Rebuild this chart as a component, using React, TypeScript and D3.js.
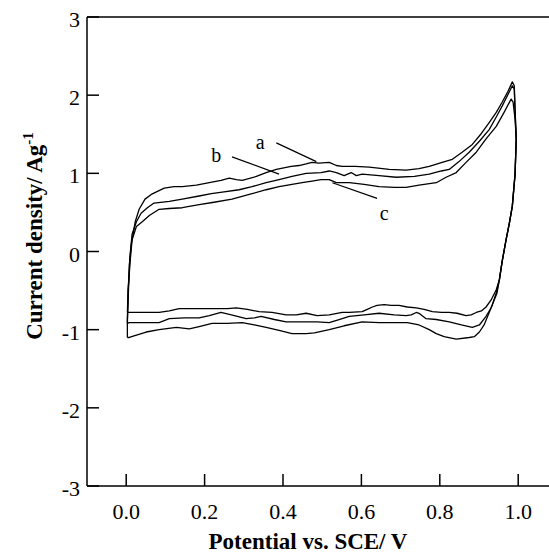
import React from 'react';
import * as d3 from 'd3';

// Tick values
const xTicks: number[] = [0, 0.2, 0.4, 0.6, 0.8, 1.0];
const yTicks: number[] = [-3, -2, -1, 0, 1, 2, 3];

// Upper (anodic) branches: left edge up, then to the vertex (potential V, current density A/g)
const upperA: [number, number][] = [
  [0.003, -1.10], [0.003, -0.87], [0.005, -0.62], [0.008, -0.17], [0.013, 0.09], [0.023, 0.38],
  [0.033, 0.54], [0.048, 0.67], [0.064, 0.73], [0.097, 0.81], [0.122, 0.83], [0.143, 0.83],
  [0.179, 0.85], [0.212, 0.88], [0.242, 0.91], [0.263, 0.94], [0.281, 0.92], [0.296, 0.91],
  [0.332, 0.96], [0.357, 1.01], [0.383, 1.05], [0.421, 1.09], [0.441, 1.10], [0.459, 1.12],
  [0.474, 1.14], [0.492, 1.13], [0.518, 1.14], [0.536, 1.10], [0.551, 1.09], [0.584, 1.09],
  [0.620, 1.08], [0.671, 1.05], [0.714, 1.04], [0.747, 1.06], [0.773, 1.09], [0.806, 1.14],
  [0.832, 1.18], [0.857, 1.27], [0.883, 1.37], [0.906, 1.51], [0.926, 1.65], [0.944, 1.78],
  [0.959, 1.91], [0.974, 2.05], [0.985, 2.17], [0.990, 2.12], [0.992, 1.82],
];
const upperB: [number, number][] = [
  [0.003, -0.92], [0.005, -0.49], [0.010, -0.04], [0.015, 0.22], [0.026, 0.38], [0.038, 0.49],
  [0.054, 0.56], [0.071, 0.62], [0.110, 0.64], [0.143, 0.67], [0.186, 0.71], [0.217, 0.74],
  [0.245, 0.76], [0.288, 0.79], [0.321, 0.83], [0.357, 0.88], [0.390, 0.92], [0.423, 0.96],
  [0.459, 1.00], [0.497, 1.01], [0.518, 1.03], [0.536, 1.01], [0.556, 0.97], [0.574, 1.01],
  [0.587, 0.97], [0.602, 0.99], [0.645, 0.97], [0.689, 0.95], [0.735, 0.96], [0.773, 0.99],
  [0.804, 1.03], [0.824, 1.05], [0.849, 1.15], [0.875, 1.27], [0.901, 1.41], [0.926, 1.56],
  [0.944, 1.72], [0.959, 1.86], [0.974, 2.01], [0.985, 2.12], [0.990, 2.08], [0.992, 1.79],
];
const upperC: [number, number][] = [
  [0.003, -0.78], [0.005, -0.49], [0.010, -0.13], [0.015, 0.15], [0.026, 0.32], [0.041, 0.38],
  [0.059, 0.46], [0.084, 0.54], [0.110, 0.55], [0.143, 0.56], [0.186, 0.60], [0.224, 0.63],
  [0.270, 0.67], [0.314, 0.73], [0.357, 0.79], [0.390, 0.83], [0.423, 0.86], [0.449, 0.88],
  [0.474, 0.90], [0.497, 0.92], [0.518, 0.92], [0.536, 0.88], [0.551, 0.88], [0.569, 0.88],
  [0.607, 0.86], [0.645, 0.83], [0.684, 0.82], [0.714, 0.82], [0.747, 0.85], [0.791, 0.88],
  [0.816, 0.95], [0.842, 1.01], [0.867, 1.14], [0.893, 1.27], [0.918, 1.44], [0.944, 1.60],
  [0.964, 1.78], [0.982, 1.95], [0.987, 1.91], [0.992, 1.69],
];

// Shared steep reversal segment at the vertex potential
const reversal: [number, number][] = [
  [0.995, 1.44], [0.992, 0.99], [0.985, 0.58], [0.977, 0.35], [0.969, 0.15], [0.959, -0.13], [0.952, -0.36],
];

// Lower (cathodic) branches, from the vertex back to 0 V
const lowerA: [number, number][] = [
  [0.944, -0.53], [0.934, -0.68], [0.926, -0.78], [0.913, -0.94], [0.901, -1.03], [0.888, -1.09],
  [0.875, -1.10], [0.842, -1.12], [0.811, -1.09], [0.791, -1.05], [0.773, -1.00], [0.747, -0.94],
  [0.717, -0.91], [0.689, -0.91], [0.645, -0.91], [0.602, -0.90], [0.556, -0.95], [0.518, -1.00],
  [0.480, -1.04], [0.459, -1.05], [0.423, -1.05], [0.390, -1.01], [0.357, -0.97], [0.327, -0.94],
  [0.296, -0.91], [0.258, -0.92], [0.219, -0.92], [0.186, -0.96], [0.161, -0.99], [0.128, -0.97],
  [0.084, -1.00], [0.051, -1.03], [0.020, -1.08], [0.008, -1.10], [0.003, -1.10],
];
const lowerB: [number, number][] = [
  [0.946, -0.53], [0.931, -0.72], [0.918, -0.83], [0.901, -0.94], [0.883, -0.97], [0.855, -0.94],
  [0.824, -0.90], [0.791, -0.87], [0.765, -0.86], [0.747, -0.79], [0.740, -0.78], [0.727, -0.81],
  [0.714, -0.82], [0.684, -0.81], [0.645, -0.79], [0.607, -0.81], [0.569, -0.83], [0.543, -0.87],
  [0.518, -0.91], [0.487, -0.90], [0.459, -0.90], [0.429, -0.90], [0.408, -0.90], [0.378, -0.87],
  [0.344, -0.83], [0.327, -0.85], [0.306, -0.86], [0.276, -0.82], [0.242, -0.78], [0.212, -0.82],
  [0.186, -0.85], [0.148, -0.85], [0.110, -0.86], [0.084, -0.91], [0.046, -0.91], [0.008, -0.91],
  [0.003, -0.92],
];
const lowerC: [number, number][] = [
  [0.944, -0.49], [0.931, -0.62], [0.918, -0.71], [0.906, -0.76], [0.893, -0.78], [0.880, -0.81],
  [0.867, -0.82], [0.844, -0.79], [0.824, -0.78], [0.804, -0.78], [0.781, -0.77], [0.760, -0.74],
  [0.740, -0.72], [0.717, -0.71], [0.696, -0.69], [0.676, -0.69], [0.658, -0.68], [0.640, -0.69],
  [0.628, -0.71], [0.615, -0.74], [0.602, -0.77], [0.569, -0.78], [0.551, -0.78], [0.518, -0.81],
  [0.487, -0.82], [0.459, -0.79], [0.434, -0.81], [0.408, -0.81], [0.372, -0.78], [0.339, -0.77],
  [0.309, -0.74], [0.281, -0.72], [0.258, -0.73], [0.237, -0.73], [0.186, -0.73], [0.135, -0.73],
  [0.110, -0.76], [0.084, -0.78], [0.046, -0.78], [0.008, -0.78], [0.003, -0.78],
];

// Curve labels with leader lines (data coordinates)
const labelNames: string[] = ['a', 'b', 'c'];
const labelPos: [number, number][] = [[0.342, 1.31], [0.230, 1.15], [0.658, 0.40]];
const leaderFrom: [number, number][] = [[0.383, 1.39], [0.270, 1.21], [0.526, 0.88]];
const leaderTo: [number, number][] = [[0.485, 1.15], [0.390, 0.99], [0.640, 0.68]];

export default function App() {
  const W = 549;
  const H = 556;
  const x = d3.scaleLinear().domain([-0.1, 1.1]).range([87, 557.4]);
  const y = d3.scaleLinear().domain([-3, 3]).range([486, 17]);
  const line = d3.line<[number, number]>().x((d) => x(d[0])).y((d) => y(d[1]));

  const loops = [
    [...upperA, ...reversal, ...lowerA],
    [...upperB, ...reversal, ...lowerB],
    [...upperC, ...reversal, ...lowerC],
  ];
  const font = "'Liberation Serif', 'Times New Roman', serif";
  const left = 87, top = 17, bottom = 486;

  return (
    <svg width={W} height={H} style={{ position: 'absolute', left: 0, top: 0, background: '#fff' }}>
      <rect width={W} height={H} fill="#fff" />
      {/* frame */}
      <line x1={left} x2={W} y1={top} y2={top} stroke="#000" strokeWidth={1.5} />
      <line x1={left} x2={W} y1={bottom} y2={bottom} stroke="#000" strokeWidth={1.5} />
      <line x1={left} x2={left} y1={top} y2={bottom} stroke="#000" strokeWidth={1.5} />
      {/* x ticks */}
      {xTicks.map((t) => (
        <g key={'x' + t}>
          <line x1={x(t)} x2={x(t)} y1={bottom} y2={bottom - 12} stroke="#000" strokeWidth={1.5} />
          <text x={x(t)} y={bottom + 33} textAnchor="middle" fontFamily={font} fontSize={22}>
            {t.toFixed(1)}
          </text>
        </g>
      ))}
      {/* y ticks */}
      {yTicks.map((t) => (
        <g key={'y' + t}>
          <line x1={left} x2={left + 12} y1={y(t)} y2={y(t)} stroke="#000" strokeWidth={1.5} />
          <text x={80} y={y(t) + 10} textAnchor="end" fontFamily={font} fontSize={22}>
            {t}
          </text>
        </g>
      ))}
      {/* curves */}
      {loops.map((pts, i) => (
        <path key={'c' + i} d={line(pts) || ''} fill="none" stroke="#000" strokeWidth={1.3} strokeLinejoin="round" />
      ))}
      {/* labels */}
      {labelNames.map((n, i) => (
        <g key={'l' + n}>
          <line
            x1={x(leaderFrom[i][0])} y1={y(leaderFrom[i][1])}
            x2={x(leaderTo[i][0])} y2={y(leaderTo[i][1])}
            stroke="#000" strokeWidth={1.2}
          />
          <text x={x(labelPos[i][0])} y={y(labelPos[i][1])} textAnchor="middle" fontFamily={font} fontSize={20}>
            {n}
          </text>
        </g>
      ))}
      {/* axis titles */}
      <text x={308} y={549} textAnchor="middle" fontFamily={font} fontSize={23} fontWeight="bold">
        Potential vs. SCE/ V
      </text>
      <text
        transform={`translate(42, 236) rotate(-90)`}
        textAnchor="middle" fontFamily={font} fontSize={23} fontWeight="bold"
      >
        Current density/ Ag<tspan dy={-9} fontSize={15}>-1</tspan>
      </text>
    </svg>
  );
}
